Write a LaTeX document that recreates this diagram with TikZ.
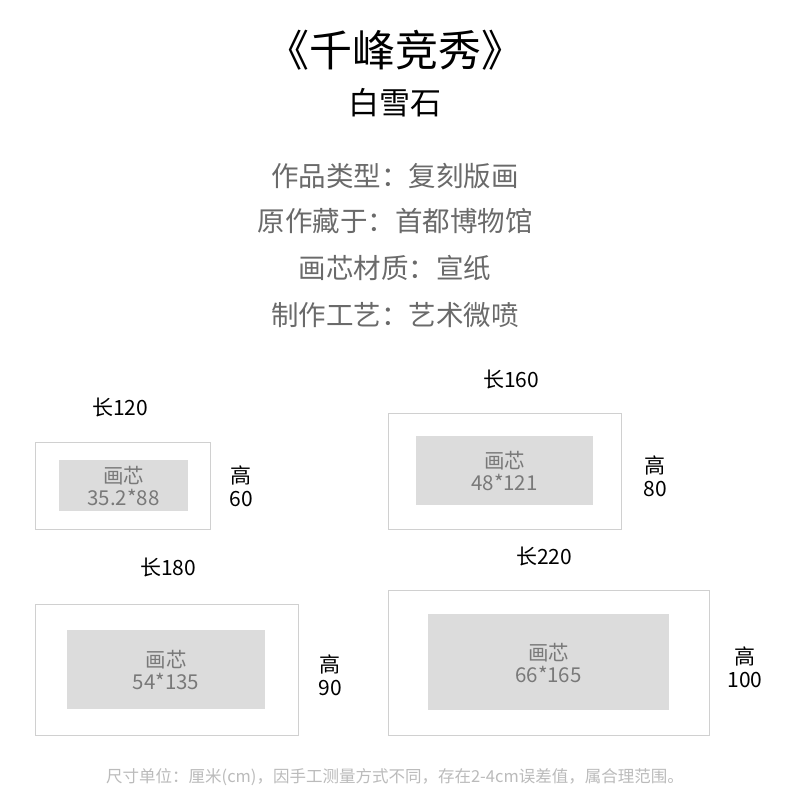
\documentclass[tikz,border=0pt]{standalone}
\usepackage{fontspec}
\setmainfont{Noto Sans CJK SC}
\definecolor{framegray}{HTML}{D0D0D0}
\definecolor{coregray}{HTML}{DCDCDC}
\definecolor{infogray}{HTML}{6A6A6A}
\definecolor{notegray}{HTML}{BBBBBB}
\tikzset{
  frame/.style={draw=framegray, line width=1pt},
  core/.style={fill=coregray},
  coretext/.style={text=infogray!90, font=\fontsize{20.5}{22}\selectfont, align=center},
  dimtext/.style={font=\fontsize{21}{23}\selectfont, align=center},
  info/.style={text=infogray, font=\fontsize{27.5}{30}\selectfont}
}
\begin{document}
\begin{tikzpicture}[x=1pt, y=-1pt]

  \useasboundingbox[fill=white] (0,0) rectangle (790,811);

  % Heading
  \node[font=\fontsize{43}{46}\selectfont] (title) at (395,50) {《千峰竞秀》};
  \node[font=\fontsize{31}{34}\selectfont] (artist) at (395,103) {白雪石};

  % Info lines
  \node[info] (type)  at (395,176) {作品类型：复刻版画};
  \node[info] (orig)  at (395,221) {原作藏于：首都博物馆};
  \node[info] (paper) at (395,268) {画芯材质：宣纸};
  \node[info] (craft) at (395,315) {制作工艺：艺术微喷};

  % Size frames
  \draw[frame] (35,442) rectangle (210,529);
  \fill[core] (59,460) rectangle (188,511);
  \node[coretext] (coreA) at (123.5,486) {画芯\\35.2*88};
  \node[dimtext] (lenA) at (120,408) {长120};
  \node[dimtext] (hgtA) at (241,486) {高\\60};

  \draw[frame] (388,413) rectangle (621,529);
  \fill[core] (416,436) rectangle (593,505);
  \node[coretext] (coreB) at (504.5,471) {画芯\\48*121};
  \node[dimtext] (lenB) at (511,380) {长160};
  \node[dimtext] (hgtB) at (655,476) {高\\80};

  \draw[frame] (35,604) rectangle (298,735);
  \fill[core] (67,630) rectangle (265,709);
  \node[coretext] (coreC) at (166,670) {画芯\\54*135};
  \node[dimtext] (lenC) at (168,568) {长180};
  \node[dimtext] (hgtC) at (330,675) {高\\90};

  \draw[frame] (388,590) rectangle (709,735);
  \fill[core] (428,614) rectangle (669,710);
  \node[coretext] (coreD) at (548.5,663) {画芯\\66*165};
  \node[dimtext] (lenD) at (544,557) {长220};
  \node[dimtext] (hgtD) at (745,667) {高\\100};

  % Note
  \node[text=notegray, font=\fontsize{16.5}{18}\selectfont] (note) at (395,777)
    {尺寸单位：厘米(cm)，因手工测量方式不同，存在2-4cm误差值，属合理范围。};

\end{tikzpicture}
\end{document}
